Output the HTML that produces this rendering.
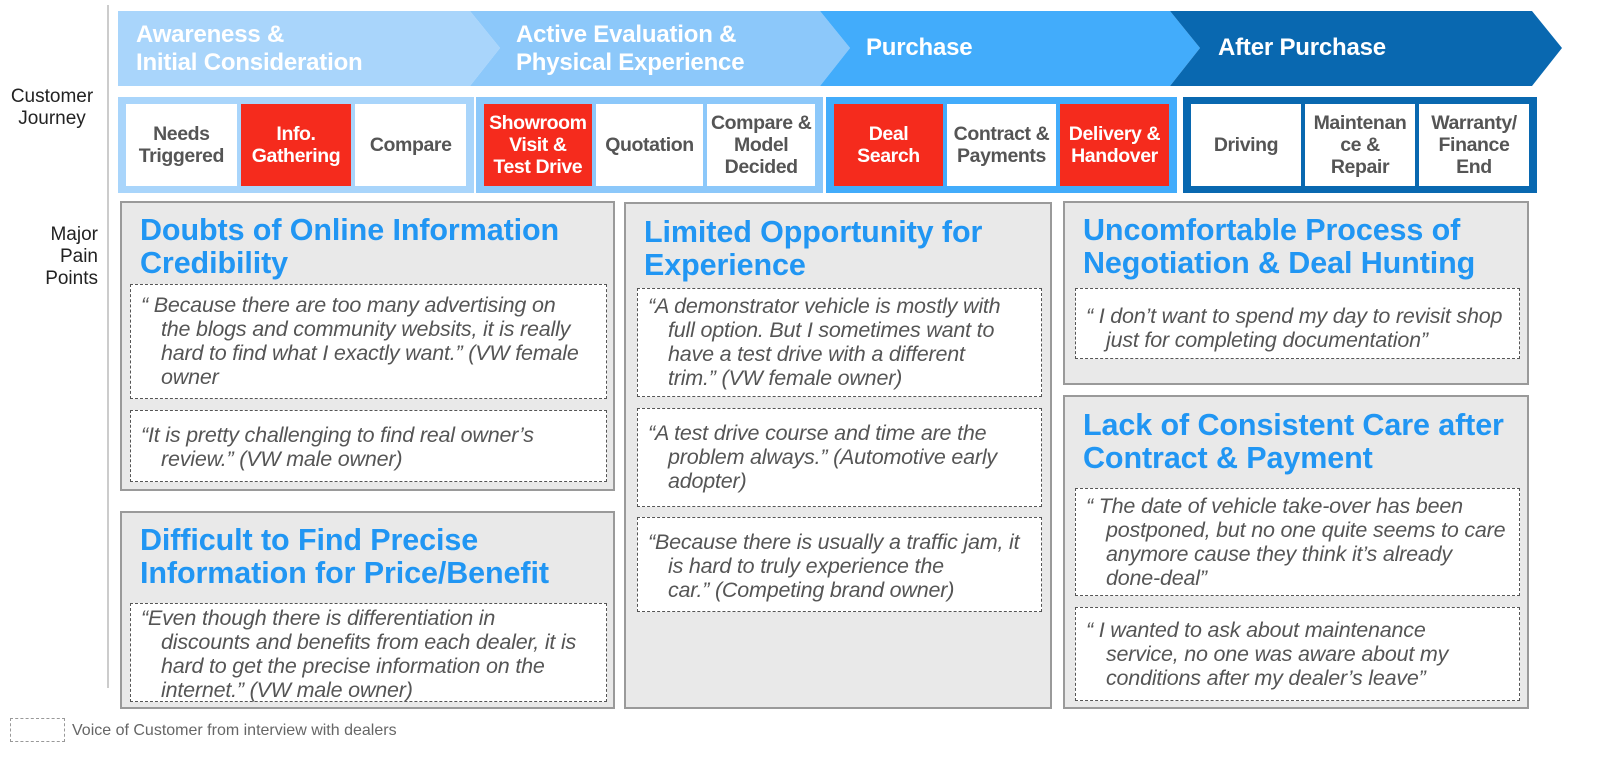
<!DOCTYPE html>
<html><head><meta charset="utf-8"><style>
*{margin:0;padding:0;box-sizing:border-box}
body{width:1608px;height:770px;background:#fff;position:relative;overflow:hidden;font-family:"Liberation Sans",Arial,sans-serif}
.a{position:absolute}
.stage{color:#fff;font-weight:bold;font-size:24px;line-height:28px;letter-spacing:-0.2px;white-space:nowrap}
.grp{position:absolute;top:97px;height:96px;display:flex;gap:4px;padding:7px 8px}
.cell{flex:1;display:flex;align-items:center;justify-content:center;text-align:center;font-weight:bold;font-size:19.5px;line-height:22px;color:#555;background:#fff;letter-spacing:-0.4px;white-space:nowrap}
.red{background:#f52b1d;color:#fff}
.panel{position:absolute;background:#e9e9e9;border:2px solid #9a9a9a}
.title{position:absolute;color:#2196f3;font-weight:bold;font-size:30.5px;line-height:33px;letter-spacing:-0.1px;white-space:nowrap}
.q{position:absolute;background:#fff;border:1.5px dashed #555;font-style:italic;color:#555;font-size:21.5px;line-height:24px;padding:8px 8px 0 10px;letter-spacing:-0.2px;white-space:nowrap}
.q .i{padding-left:20px}
.lbl{font-size:19px;line-height:22px;color:#222;text-align:right;white-space:nowrap}
</style></head><body>
<div class="a" style="left:107px;top:5px;width:2px;height:683px;background:#ccc"></div>
<div class="a lbl" style="left:2px;top:86px;text-align:center;width:100px">Customer<br>Journey</div>
<div class="a lbl" style="left:20px;top:224px;width:78px">Major<br>Pain<br>Points</div>

<svg class="a" style="left:0;top:0" width="1608" height="100">
<polygon points="118,11 470,11 500,48 470,86 118,86" fill="#a9d5fb"/>
<polygon points="470,11 820,11 850,48 820,86 470,86 500,48" fill="#8cc8fa"/>
<polygon points="820,11 1170,11 1200,48 1170,86 820,86 850,48" fill="#42acfb"/>
<polygon points="1170,11 1532,11 1562,48 1532,86 1170,86 1200,48" fill="#0968b0"/>
</svg>
<div class="a stage" style="left:136px;top:21px">Awareness &amp;<br>Initial Consideration</div>
<div class="a stage" style="left:516px;top:21px">Active Evaluation &amp;<br>Physical Experience</div>
<div class="a stage" style="left:866px;top:34px">Purchase</div>
<div class="a stage" style="left:1218px;top:34px">After Purchase</div>

<div class="grp" style="left:118px;width:356px;background:#a9d5fb">
<div class="cell">Needs<br>Triggered</div>
<div class="cell red">Info.<br>Gathering</div>
<div class="cell">Compare</div></div>
<div class="grp" style="left:476px;width:347px;background:#8cc8fa">
<div class="cell red">Showroom<br>Visit &amp;<br>Test Drive</div>
<div class="cell">Quotation</div>
<div class="cell">Compare &amp;<br>Model<br>Decided</div></div>
<div class="grp" style="left:826px;width:351px;background:#42acfb">
<div class="cell red">Deal<br>Search</div>
<div class="cell">Contract &amp;<br>Payments</div>
<div class="cell red">Delivery &amp;<br>Handover</div></div>
<div class="grp" style="left:1183px;width:354px;background:#0968b0">
<div class="cell">Driving</div>
<div class="cell">Maintenan<br>ce &amp;<br>Repair</div>
<div class="cell">Warranty/<br>Finance<br>End</div></div>

<!-- column 1 -->
<div class="panel" style="left:120px;top:201px;width:495px;height:290px"></div>
<div class="title" style="left:140px;top:214px">Doubts of Online Information<br>Credibility</div>
<div class="q" style="left:130px;top:284px;width:477px;height:115px">“ Because there are too many advertising on<div class="i">the blogs and community websits, it is really</div><div class="i">hard to find what I exactly want.” (VW female</div><div class="i">owner</div></div>
<div class="q" style="left:130px;top:410px;width:477px;height:72px;padding-top:12px">“It is pretty challenging to find real owner’s<div class="i">review.” (VW male owner)</div></div>

<div class="panel" style="left:120px;top:511px;width:495px;height:198px"></div>
<div class="title" style="left:140px;top:524px">Difficult to Find Precise<br>Information for Price/Benefit</div>
<div class="q" style="left:130px;top:603px;width:477px;height:99px;padding-top:2px">“Even though there is differentiation in<div class="i">discounts and benefits from each dealer, it is</div><div class="i">hard to get the precise information on the</div><div class="i">internet.” (VW male owner)</div></div>

<!-- column 2 -->
<div class="panel" style="left:624px;top:202px;width:428px;height:507px"></div>
<div class="title" style="left:644px;top:216px">Limited Opportunity for<br>Experience</div>
<div class="q" style="left:637px;top:288px;width:405px;height:109px;padding-top:5px">“A demonstrator vehicle is mostly with<div class="i">full option. But I sometimes want to</div><div class="i">have a test drive with a different</div><div class="i">trim.” (VW female owner)</div></div>
<div class="q" style="left:637px;top:408px;width:405px;height:99px;padding-top:12px">“A test drive course and time are the<div class="i">problem always.” (Automotive early</div><div class="i">adopter)</div></div>
<div class="q" style="left:637px;top:517px;width:405px;height:95px;padding-top:12px">“Because there is usually a traffic jam, it<div class="i">is hard to truly experience the</div><div class="i">car.” (Competing brand owner)</div></div>

<!-- column 3 -->
<div class="panel" style="left:1063px;top:201px;width:466px;height:184px"></div>
<div class="title" style="left:1083px;top:214px">Uncomfortable Process of<br>Negotiation &amp; Deal Hunting</div>
<div class="q" style="left:1075px;top:288px;width:445px;height:71px;padding-top:15px">“ I don’t want to spend my day to revisit shop<div class="i">just for completing documentation”</div></div>
<div class="panel" style="left:1063px;top:395px;width:466px;height:314px"></div>
<div class="title" style="left:1083px;top:409px">Lack of Consistent Care after<br>Contract &amp; Payment</div>
<div class="q" style="left:1075px;top:488px;width:445px;height:108px;padding-top:5px">“ The date of vehicle take-over has been<div class="i">postponed, but no one quite seems to care</div><div class="i">anymore cause they think it’s already</div><div class="i">done-deal”</div></div>
<div class="q" style="left:1075px;top:607px;width:445px;height:94px;padding-top:10px">“ I wanted to ask about maintenance<div class="i">service, no one was aware about my</div><div class="i">conditions after my dealer’s leave”</div></div>

<div class="a" style="left:10px;top:718px;width:55px;height:24px;border:1.5px dashed #999"></div>
<div class="a" style="left:72px;top:722px;font-size:16px;color:#666;white-space:nowrap">Voice of Customer from interview with dealers</div>
</body></html>
